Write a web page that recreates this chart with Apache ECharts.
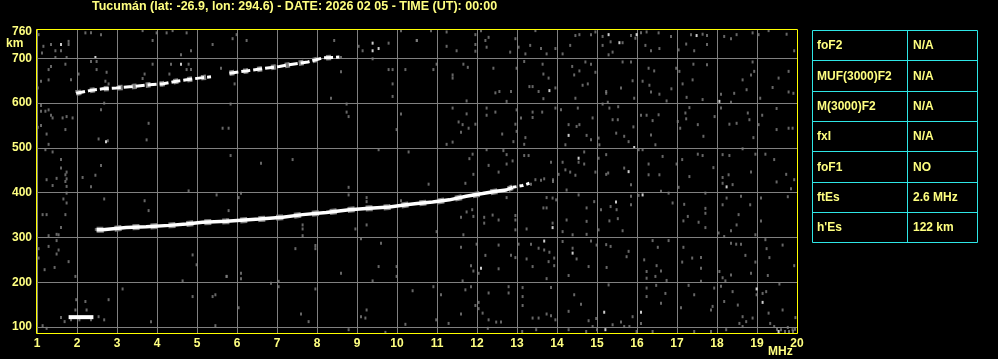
<!DOCTYPE html>
<html><head><meta charset="utf-8">
<script src="https://cdn.jsdelivr.net/npm/echarts@6/dist/echarts.min.js"></script>
<style>html,body{margin:0;padding:0;background:#000;}#c{width:998px;height:359px;}</style>
</head><body><div id="c"></div>
<script>
const titleText = 'Tucumán (lat: -26.9, lon: 294.6) - DATE: 2026 02 05 - TIME (UT): 00:00';
const xUnit = 'MHz';
const yUnit = 'km';
const yLabelValues = [100, 200, 300, 400, 500, 600, 700, 760];
const yGridValues = [100, 200, 300, 400, 500, 600, 700];

const esTrace = [[1.79,122],[2.41,122]];
const fTrace1 = [[2.49,317],[2.64,317],[3.23,322],[3.73,324],[4.31,327],[4.73,330],[5.14,334],[5.73,336],[6.56,341],[7.14,345],[7.64,351],[8.23,356],[8.81,362],[9.31,365],[9.81,368],[10.23,373],[10.5,376],[10.89,379],[11.31,384],[11.73,392],[12.14,398],[12.48,403],[12.73,406],[12.89,412]];
const fTrace1Tail = [[12.89,412],[13.14,416],[13.31,421]];
const fTrace2a = [[1.98,622],[2.31,628],[2.64,632],[2.98,634],[3.39,637],[3.81,641],[4.14,643],[4.48,649],[4.89,654],[5.14,657],[5.35,659]];
const fTrace2b = [[5.81,667],[6.23,672],[6.64,677],[7.06,682],[7.39,687],[7.77,692],[8.14,701],[8.56,703]];

const noiseWhite = [[1.6,731],[2.46,702],[4.6,687],[2.725,514],[9.39,734],[9.54,722],[9.39,717],[13.81,628],[14.29,528],[14.54,477],[13.89,322],[12.1,231],[13.68,292],[14.39,265],[15.18,133],[15.21,94],[15.56,735],[15.29,753],[15.99,753],[17.49,751],[18.06,604],[15.93,501],[15.79,447],[18.24,413],[15.475,379],[16.14,395],[16.1,133],[18.99,185],[19.14,155],[19.54,90]];

const noiseGray = [
[1.04,753],[1.16,727],[1.125,712],[1.35,731],[1.46,717],[1.6,717],[1.79,738],[1.79,731],[1.74,702],[1.46,702],[2.21,757],[2.35,757],[2.6,753],[2.35,693],[2.49,693],[2.49,675],[2.74,669],[2.04,665],[1.85,652],[1.29,652],[1.35,682],[1.29,675],[1.71,687],[1.1,649],[1.02,634],[3.64,762],[3.99,757],[4.24,757],[4.39,762],[4.74,757],[3.89,740],[4.85,717],[4.6,708],[5.39,731],[5.6,678],[3.89,687],[4.35,687],[4.79,687],[4.85,675],[4.74,675],[4.31,665],[3.69,665],[3.64,655],[2.71,649],[2.79,643],[1.1,595],[1.1,582],[1.21,582],[1.29,585],[1.35,573],[1.39,567],[1.64,567],[1.74,570],[1.89,567],[1.1,550],[1.02,546],[1.71,541],[1.24,531],[1.29,508],[2.6,585],[2.68,600],[2.54,520],[2.77,516],[3.79,555],[3.74,518],[5.64,544],[1.21,496],[1.39,491],[1.6,474],[1.6,455],[1.74,446],[1.71,440],[1.49,432],[1.74,431],[1.71,425],[1.24,429],[1.39,416],[2.14,434],[2.46,439],[2.35,413],[2.6,461],[1.74,414],[1.74,399],[4.79,404],[5.49,395],[1.66,386],[1.74,377],[1.14,351],[1.24,351],[1.71,351],[1.6,322],[1.49,307],[1.29,304],[1.54,306],[1.49,293],[1.29,280],[1.54,272],[1.49,263],[1.04,275],[1.04,254],[1.79,246],[1.19,228],[1.44,233],[1.96,213],[2.68,386],[3.69,382],[3.79,360],[4.89,261],[4.99,239],[4.64,203],[5.74,213],[3.14,185],[1.98,161],[2.21,157],[2.79,161],[2.24,138],[1.96,138],[2.68,116],[3.85,112],[4.89,168],[5.39,168],[5.46,172],[5.46,103],[1.14,103],[1.24,97],[1.6,121],[1.69,112],[1.85,116],[2.06,116],[2.35,116],[2.54,123],[2.47,318],[2.55,315],[1.98,626],
[5.89,744],[5.99,753],[6.24,740],[8.43,740],[9.04,727],[9.14,717],[9.39,699],[9.79,734],[10.1,762],[10.49,740],[10.99,687],[9.79,675],[9.89,675],[10.21,675],[9.89,643],[9.89,615],[8.6,670],[8.6,702],[8.35,611],[5.94,643],[5.84,598],[5.79,544],[8.74,598],[8.74,580],[8.79,570],[10.1,576],[9.99,541],[5.84,483],[6.6,466],[7.39,474],[9.54,496],[10.29,491],[8.79,412],[8.79,395],[6.1,399],[6.04,389],[5.79,360],[9.24,389],[9.24,380],[10.1,382],[9.24,328],[8.96,319],[7.64,328],[7.64,319],[7.64,304],[9.1,297],[9.6,287],[7.96,282],[7.96,275],[7.46,275],[9.54,235],[9.99,235],[8.6,220],[6.1,220],[6.1,208],[5.74,213],[7.04,202],[7.04,190],[6.85,198],[9.39,203],[9.99,213],[7.96,185],[10.39,181],[6.04,143],[7.6,129],[7.79,112],[9.1,123],[9.21,120],[9.24,138],[10.21,106],[8.79,94],[9.71,88],
[10.85,762],[11.24,759],[11.96,753],[12.1,762],[12.21,740],[12.29,747],[11.96,731],[11.96,716],[11.49,717],[11.24,727],[12.24,725],[12.83,714],[12.96,744],[13.04,725],[13.21,710],[13.33,729],[13.46,762],[13.6,722],[13.74,710],[13.96,722],[14.14,710],[14.33,729],[14.46,751],[14.56,753],[14.85,753],[14.96,759],[15.14,749],[15.14,729],[10.5,740],
[10.91,675],[11.39,663],[11.39,656],[11.66,687],[11.77,680],[12.41,678],[12.46,623],[12.56,626],[12.85,626],[12.74,604],[11.74,605],[12.99,678],[13.18,693],[13.31,637],[13.39,637],[13.54,626],[13.64,687],[13.66,665],[13.79,656],[13.66,610],[13.96,634],[14.38,682],[14.43,663],[14.56,672],[14.71,692],[14.85,687],[14.96,669],[14.64,640],[14.77,643],[14.46,611],[15.23,622],
[11.39,589],[11.54,558],[11.64,552],[11.74,576],[11.79,544],[11.6,535],[11.96,553],[11.39,513],[11.24,508],[12.24,589],[12.24,573],[12.46,580],[12.63,531],[12.91,514],[12.96,553],[12.99,585],[12.99,537],[13.1,567],[13.21,523],[13.39,568],[13.39,580],[13.63,580],[13.96,589],[14.1,585],[14.29,552],[14.49,548],[14.56,552],[14.74,528],[14.85,518],[15.04,522],[15.06,507],[14.21,507],[14.52,589],[14.89,567],[15.14,598],[13.18,508],
[10.79,419],[11.81,476],[11.89,486],[11.71,421],[11.91,441],[12.24,496],[12.29,461],[12.54,446],[12.66,494],[12.74,485],[12.74,464],[12.89,471],[13.18,483],[13.29,483],[13.85,468],[14.04,441],[14.14,468],[14.21,451],[14.33,446],[14.46,439],[14.54,468],[14.68,491],[14.68,464],[14.96,446],[15.04,477],[15.23,441],[14.24,406],[13.46,429],[13.68,431],[13.35,419],[13.6,428],[13.9,429],[13.9,425],
[11.6,345],[11.74,357],[11.91,347],[11.88,362],[12.18,345],[12.18,332],[12.54,339],[12.74,389],[12.96,349],[12.96,339],[12.96,317],[13.24,319],[13.66,366],[13.74,366],[13.74,389],[13.89,388],[13.89,332],[13.98,384],[14.14,313],[14.24,339],[14.39,306],[14.54,395],[14.74,366],[14.74,336],[14.74,307],[14.93,380],[15.1,362],[15.04,317],[11.66,306],[10.99,313],[12.39,350],
[11.6,278],[11.99,285],[12.21,260],[11.85,237],[11.91,225],[12.04,220],[12.54,283],[12.54,230],[12.85,260],[12.96,255],[13.04,285],[13.24,252],[13.35,285],[13.54,276],[13.68,272],[13.81,267],[13.79,246],[13.93,254],[13.93,237],[13.39,235],[13.74,208],[14.14,291],[14.39,276],[14.49,252],[14.29,215],[14.79,235],[14.99,283],[14.85,292],[11.64,203],
[10.91,190],[11.1,172],[11.71,183],[11.85,190],[11.96,148],[12.04,155],[12.04,141],[11.6,129],[11.29,108],[12.14,131],[12.29,116],[12.29,176],[12.48,111],[12.6,111],[12.79,190],[12.79,176],[13.14,188],[13.14,168],[13.14,148],[13.39,120],[13.54,120],[13.74,129],[13.85,125],[13.96,116],[13.85,188],[14.29,135],[14.43,172],[14.6,151],[14.79,114],[14.98,119],[10.98,116],[12.27,97],[13.13,90],[13.48,94],[14.29,94],[14.73,90],[14.89,101],[15.0,94],
[15.34,737],[15.85,751],[16.1,757],[16.24,759],[16.54,757],[15.39,714],[15.64,735],[15.96,745],[16.21,729],[16.35,717],[16.56,722],[16.85,749],[17.35,753],[17.64,754],[17.75,751],[17.75,731],[17.04,719],[17.23,732],[17.43,717],[18.18,749],[18.35,744],[18.49,753],[18.89,757],[19.04,753],[19.29,762],[19.74,754],[19.93,717],[15.29,708],
[15.64,692],[15.85,692],[16.29,678],[16.43,672],[15.89,650],[15.6,634],[16.14,649],[16.31,640],[16.35,625],[16.56,620],[16.74,605],[16.86,632],[16.98,678],[17.06,671],[17.14,643],[17.41,687],[17.39,652],[17.75,686],[17.24,613],[17.64,608],[18.1,620],[18.35,602],[18.43,622],[18.64,652],[18.74,630],[18.85,663],[18.89,692],[18.93,671],[19.08,611],[19.39,635],[19.54,656],[19.79,671],[19.79,625],[19.91,622],[15.23,626],[15.93,611],
[15.53,592],[15.39,563],[15.52,563],[15.91,547],[15.48,533],[15.68,526],[15.79,514],[16.1,573],[16.24,573],[16.39,561],[16.54,574],[16.35,529],[16.46,507],[17.02,559],[17.08,544],[17.21,578],[17.31,590],[17.23,565],[17.52,552],[17.66,526],[17.94,570],[18.1,589],[18.31,553],[18.49,555],[18.77,578],[18.81,563],[18.91,523],[19.04,552],[19.13,573],[19.49,588],[19.49,541],[19.79,544],[19.89,544],[15.27,602],[15.31,589],
[15.23,485],[15.68,455],[15.28,444],[15.85,418],[16.04,496],[16.14,496],[16.29,464],[16.29,440],[16.56,440],[16.64,481],[16.99,464],[17.13,474],[17.04,412],[17.31,436],[17.52,486],[17.64,483],[17.91,456],[18.14,485],[18.31,483],[18.14,434],[18.29,440],[18.14,421],[18.39,418],[18.64,498],[18.85,446],[18.96,486],[19.21,486],[19.43,474],[19.49,424],[19.73,441],[19.85,409],[19.93,429],[16.79,399],[16.6,403],
[16.04,394],[15.85,392],[15.34,369],[15.49,362],[15.31,337],[15.64,315],[15.52,342],[15.85,373],[17.18,374],[17.27,347],[17.16,337],[17.54,334],[17.71,365],[17.71,354],[17.71,322],[16.89,377],[18.14,373],[18.24,388],[18.35,315],[18.54,351],[18.49,328],[18.6,392],[18.83,373],[19.1,388],[19.1,337],[18.96,306],[19.77,391],[18.18,302],[18.04,310],[17.71,399],
[15.23,284],[15.34,280],[15.79,269],[15.74,257],[15.24,233],[16.18,250],[16.39,293],[16.52,278],[16.79,293],[16.49,237],[16.6,225],[16.24,224],[16.24,209],[16.46,213],[16.74,204],[17.13,245],[17.16,278],[17.38,254],[17.6,255],[17.6,231],[17.6,202],[18.35,287],[18.48,285],[18.6,285],[18.71,260],[18.06,224],[18.14,210],[18.21,203],[18.35,216],[18.85,220],[18.96,245],[19.21,295],[19.24,275],[19.31,255],[19.64,283],[19.27,215],[19.93,237],[19.56,196],
[15.29,194],[15.89,123],[16.1,108],[16.24,187],[16.48,193],[16.24,168],[16.6,153],[16.71,175],[17.1,143],[17.29,193],[17.43,172],[17.89,146],[17.85,138],[17.93,187],[18.1,191],[18.39,179],[18.18,157],[18.52,149],[18.64,123],[18.73,112],[18.89,120],[18.99,172],[19.14,175],[19.23,179],[19.29,131],[19.33,108],[19.43,101],[19.6,94],[19.77,99],[19.89,94],[19.96,121],[19.64,138],[15.68,101],[15.81,101],[15.6,111],[15.39,105],[15.99,90],[16.39,90],[18.56,108],[18.64,101],[18.23,94],[17.85,90],[17.43,90],[19.7,90],[19.8,90],[19.9,90],[19.95,95],[19.5,95]
];

const tableNames = ['foF2', 'MUF(3000)F2', 'M(3000)F2', 'fxI', 'foF1', 'ftEs', "h'Es"];
const tableValues = ['N/A', 'N/A', 'N/A', 'N/A', 'NO', '2.6 MHz', '122 km'];

const YEL = '#ffff00';
const TXT = '#ffff80';
const GRAY = '#808080';
const CYAN = '#2ee6e6';
const FONT = '"Liberation Sans", Arial, sans-serif';
const xMin = 1, xMax = 20, yMin = 86.6, yMax = 763.4;

const chart = echarts.init(document.getElementById('c'), null, {renderer: 'canvas'});

const graphics = [];
graphics.push({type: 'text', left: 92, top: 0, style: {text: titleText, fill: TXT, font: 'bold 12.5px ' + FONT}});
graphics.push({type: 'text', left: 6, top: 38, style: {text: yUnit, fill: TXT, font: 'bold 12px ' + FONT}});
graphics.push({type: 'text', left: 768, top: 346, style: {text: xUnit, fill: TXT, font: 'bold 12px ' + FONT}});

const tL = 812.5, tR = 977.5, tM = 907.5, tT = 30.5, rowH = 30.3;
const nRows = tableNames.length;
graphics.push({type: 'rect', shape: {x: tL, y: tT, width: tR - tL, height: Math.round(rowH * nRows)}, style: {fill: null, stroke: CYAN, lineWidth: 1}, z: 10});
for (let i = 1; i < nRows; i++) {
  const y = Math.round(tT + i * rowH - 0.5) + 0.5;
  graphics.push({type: 'line', shape: {x1: tL, y1: y, x2: tR, y2: y}, style: {stroke: CYAN, lineWidth: 1}, z: 10});
}
graphics.push({type: 'line', shape: {x1: tM, y1: tT, x2: tM, y2: tT + Math.round(rowH * nRows)}, style: {stroke: CYAN, lineWidth: 1}, z: 10});
for (let i = 0; i < nRows; i++) {
  const cy = tT + (i + 0.5) * rowH + 0.5;
  graphics.push({type: 'text', x: 817, y: cy, style: {text: tableNames[i], fill: TXT, font: 'bold 12px ' + FONT, verticalAlign: 'middle', align: 'left'}, z: 10});
  graphics.push({type: 'text', x: 913, y: cy, style: {text: tableValues[i], fill: TXT, font: 'bold 12px ' + FONT, verticalAlign: 'middle', align: 'left'}, z: 10});
}

const axisLabelStyle = {color: TXT, fontFamily: FONT, fontWeight: 'bold', fontSize: 12};
const traceLine = (data, w, type, color) => ({type: 'line', data: data, showSymbol: false, silent: true,
  lineStyle: {color: color || '#ffffff', width: w, type: type || 'solid'}, z: color ? 4 : 5});

chart.setOption({
  backgroundColor: '#000000',
  animation: false,
  grid: {left: 37, top: 30, width: 760, height: 303, show: false, outerBoundsMode: 'none', containLabel: false},
  xAxis: {type: 'value', min: xMin, max: xMax, interval: 1, position: 'bottom',
     axisLine: {show: false}, axisTick: {show: false},
     axisLabel: Object.assign({margin: 5}, axisLabelStyle),
     splitLine: {show: true, showMinLine: true, showMaxLine: false, lineStyle: {color: GRAY, width: 1}}},
  yAxis: {type: 'value', min: yMin, max: yMax, position: 'left',
     axisLine: {show: false}, axisTick: {show: false},
     axisLabel: Object.assign({margin: 5, customValues: yLabelValues}, axisLabelStyle),
     splitLine: {show: false}},
  graphic: graphics,
  series: [
    {type: 'scatter', data: [], z: 1, silent: true,
     markLine: {silent: true, symbol: ['none', 'none'], label: {show: false}, animation: false,
       lineStyle: {color: GRAY, type: 'solid', width: 1},
       data: yGridValues.map(v => ({yAxis: v}))}},
    {type: 'scatter', data: noiseGray, symbol: 'rect', symbolSize: [2, 3], itemStyle: {color: GRAY}, z: 3, silent: true},
    {type: 'scatter', data: noiseWhite, symbol: 'rect', symbolSize: [2, 3], itemStyle: {color: '#ffffff'}, z: 4, silent: true},
    traceLine(fTrace1, 6, [7, 11], GRAY),
    traceLine(fTrace2a, 5.5, [5, 9], GRAY),
    traceLine(fTrace2b, 5.5, [5, 9], GRAY),
    traceLine(esTrace, 4),
    traceLine(fTrace1, 3.5),
    traceLine(fTrace1Tail, 3, [4, 3]),
    traceLine(fTrace2a, 3, [9, 3]),
    traceLine(fTrace2b, 3, [9, 3])
  ]
});

// yellow frame round the plotting area, placed from the axes' own scales
const pTL = chart.convertToPixel({gridIndex: 0}, [xMin, yMax]);
const pBR = chart.convertToPixel({gridIndex: 0}, [xMax, yMin]);
const fx0 = Math.round(pTL[0]) - 0.5, fy0 = Math.round(pTL[1]) - 0.5;
const fx1 = Math.round(pBR[0]) + 0.5, fy1 = Math.round(pBR[1]) + 0.5;
[[fx0, fy0, fx1, fy0], [fx1, fy0, fx1, fy1], [fx0, fy1, fx1, fy1], [fx0, fy0, fx0, fy1]].forEach(s => {
  graphics.push({type: 'line', shape: {x1: s[0], y1: s[1], x2: s[2], y2: s[3]},
    style: {stroke: YEL, lineWidth: 1}, z: 20, silent: true});
});
chart.setOption({graphic: graphics});
</script>
</body></html>
